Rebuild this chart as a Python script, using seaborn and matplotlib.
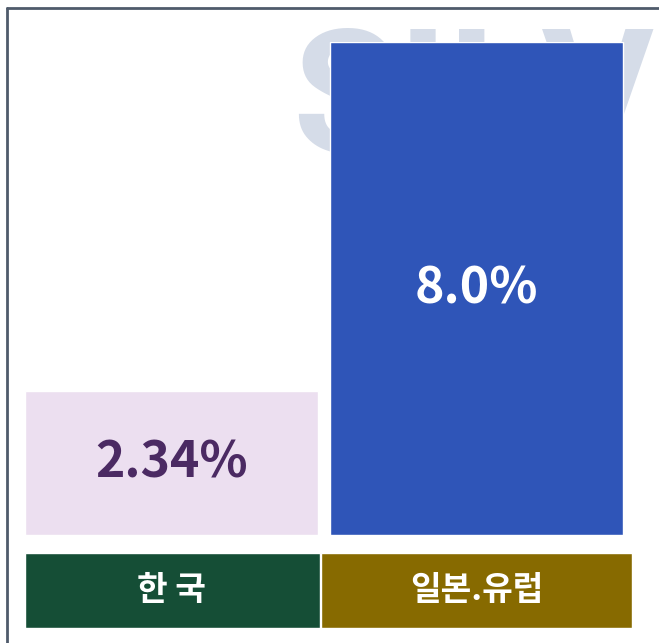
import matplotlib
matplotlib.use("Agg")
import matplotlib.pyplot as plt
from matplotlib.lines import Line2D
import seaborn as sns

categories = ["한 국", "일본.유럽"]
values = [2.34, 8.0]
value_labels = ["2.34%", "8.0%"]
bar_colors = ["#ecdff0", "#2f55b8"]
value_text_colors = ["#4b2a63", "#ffffff"]
label_box_colors = ["#154e36", "#876a00"]

sns.set_style("white")
plt.rcParams['font.family'] = ['Noto Sans CJK KR', 'DejaVu Sans']

W, H = 659, 643
fig = plt.figure(figsize=(W / 100, H / 100), dpi=100)
fig.patch.set_facecolor("white")

# faint watermark behind the bars
fig.text(292 / W, 1 - 152 / H, "SILV", fontsize=124, fontweight="bold",
         family=["Roboto", "DejaVu Sans"], color="#d5dce8",
         ha="left", va="baseline", zorder=0)

# frame
fig.add_artist(Line2D([7 / W, 7 / W], [0, 1 - 8 / H], color="#4f5b6b", lw=2))
fig.add_artist(Line2D([7 / W, 1], [1 - 8 / H, 1 - 8 / H], color="#4f5b6b", lw=2))

left, right = 25 / W, 632 / W
ax = fig.add_axes([left, 1 - 535 / H, right - left, (535 - 42) / H])
ax.set_zorder(2)
ax.patch.set_alpha(0)
sns.barplot(x=categories, y=values, hue=categories, palette=bar_colors,
            saturation=1, width=0.96, legend=False, ax=ax)
ax.set_xlim(-0.48, 1.51)
ax.set_ylim(0, max(values))
ax.axis("off")

for i, (v, lab) in enumerate(zip(values, value_labels)):
    ax.text(i, v / 2, lab, ha="center", va="center", fontsize=36,
            fontweight="bold", color=value_text_colors[i])

# category label boxes
ax2 = fig.add_axes([left, 1 - 628 / H, right - left, (628 - 553) / H])
ax2.set_zorder(2)
ax2.patch.set_alpha(0)
ax2.bar([0.0035, 1.0], [1] * len(categories), width=[0.967, 1.017],
        color=label_box_colors)
ax2.set_xlim(-0.48, 1.51)
ax2.set_ylim(0, 1)
ax2.axis("off")
for i, c in enumerate(categories):
    ax2.text(i, 0.5, c, ha="center", va="center", fontsize=24,
             fontweight="bold", color="white")

fig.savefig("out.png", dpi=100)
